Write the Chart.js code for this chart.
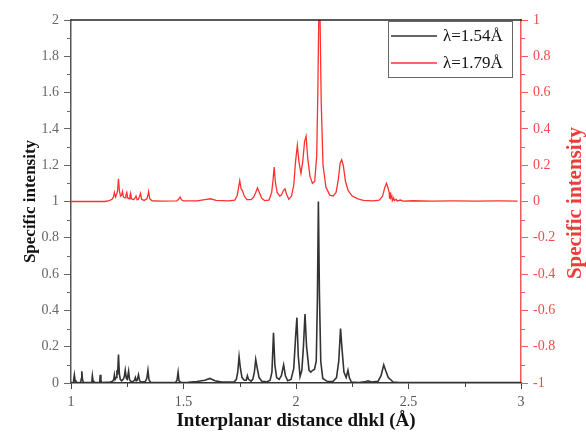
<!DOCTYPE html>
<html><head><meta charset="utf-8">
<script src="https://cdn.jsdelivr.net/npm/chart.js@4/dist/chart.umd.min.js"></script>
<style>html,body{margin:0;padding:0;background:#fff}#wrap{width:586px;height:441px}</style>
</head><body><div id="wrap"><canvas id="c" width="586" height="441"></canvas></div>
<script>
// ---- data ----
const seriesLabels = ['\u03bb=1.54\u00c5', '\u03bb=1.79\u00c5'];
const xTitle = 'Interplanar distance dhkl (\u00c5)';
const yLeftTitle = 'Specific intensity';
const yRightTitle = 'Specific intensity';
const xTicks = [1, 1.5, 2, 2.5, 3];
const xTickLabels = ['1', '1.5', '2', '2.5', '3'];
const yLeftTicks = [0, 0.2, 0.4, 0.6, 0.8, 1, 1.2, 1.4, 1.6, 1.8, 2];
const yLeftTickLabels = ['0', '0.2', '0.4', '0.6', '0.8', '1', '1.2', '1.4', '1.6', '1.8', '2'];
const yRightTicks = [-1, -0.8, -0.6, -0.4, -0.2, 0, 0.2, 0.4, 0.6, 0.8, 1];
const yRightTickLabels = ['-1', '-0.8', '-0.6', '-0.4', '-0.2', '0', '0.2', '0.4', '0.6', '0.8', '1'];

// λ=1.54Å (left axis)
const blackX = [1.000,1.009,1.012,1.015,1.018,1.022,1.043,1.046,1.048,1.051,1.055,1.090,1.093,1.095,1.098,1.102,1.125,1.128,1.130,1.133,1.137,1.175,1.185,1.190,1.193,1.196,1.200,1.204,1.207,1.211,1.215,1.219,1.225,1.232,1.237,1.241,1.246,1.250,1.256,1.260,1.266,1.275,1.282,1.286,1.290,1.294,1.300,1.305,1.315,1.330,1.337,1.342,1.347,1.355,1.465,1.471,1.476,1.480,1.488,1.520,1.560,1.595,1.617,1.640,1.670,1.725,1.735,1.741,1.747,1.753,1.760,1.770,1.779,1.784,1.789,1.800,1.808,1.815,1.821,1.828,1.836,1.848,1.870,1.885,1.893,1.900,1.906,1.914,1.925,1.935,1.945,1.953,1.963,1.978,1.990,1.998,2.004,2.010,2.018,2.026,2.033,2.040,2.047,2.058,2.066,2.074,2.082,2.090,2.095,2.0995,2.104,2.110,2.119,2.140,2.165,2.180,2.190,2.198,2.205,2.213,2.223,2.231,2.237,2.246,2.280,2.305,2.320,2.335,2.365,2.378,2.384,2.390,2.398,2.410,2.432,2.460,3.000];
const blackY = [0.003,0.003,0.02,0.045,0.015,0.003,0.003,0.025,0.065,0.02,0.003,0.003,0.015,0.04,0.012,0.003,0.003,0.015,0.045,0.012,0.003,0.005,0.01,0.02,0.045,0.02,0.03,0.07,0.045,0.157,0.05,0.02,0.012,0.02,0.035,0.07,0.025,0.02,0.065,0.02,0.008,0.008,0.015,0.03,0.012,0.015,0.045,0.012,0.005,0.008,0.025,0.07,0.015,0.003,0.003,0.015,0.06,0.012,0.003,0.004,0.008,0.015,0.025,0.012,0.005,0.005,0.02,0.06,0.145,0.08,0.03,0.015,0.015,0.04,0.02,0.01,0.02,0.06,0.13,0.08,0.03,0.01,0.006,0.015,0.06,0.277,0.1,0.03,0.02,0.04,0.1,0.04,0.012,0.02,0.08,0.25,0.36,0.15,0.035,0.07,0.2,0.38,0.2,0.07,0.06,0.07,0.075,0.12,0.45,1.0,0.5,0.12,0.025,0.008,0.01,0.03,0.12,0.30,0.18,0.06,0.03,0.07,0.03,0.005,0.003,0.006,0.012,0.005,0.01,0.04,0.07,0.1,0.07,0.03,0.005,0.003,0.003];

// λ=1.79Å (right axis)
const redX = [1.000,1.150,1.170,1.182,1.189,1.193,1.198,1.203,1.207,1.211,1.215,1.220,1.225,1.229,1.233,1.240,1.244,1.248,1.252,1.258,1.262,1.265,1.269,1.278,1.284,1.289,1.294,1.300,1.305,1.309,1.314,1.325,1.337,1.341,1.345,1.350,1.360,1.400,1.470,1.478,1.485,1.491,1.500,1.560,1.595,1.620,1.645,1.700,1.728,1.738,1.744,1.750,1.756,1.762,1.770,1.782,1.800,1.812,1.821,1.829,1.837,1.847,1.860,1.880,1.892,1.898,1.903,1.908,1.916,1.928,1.935,1.944,1.951,1.958,1.968,1.980,1.990,1.998,2.006,2.013,2.022,2.030,2.038,2.045,2.052,2.062,2.073,2.083,2.092,2.097,2.101,2.107,2.112,2.120,2.133,2.150,2.165,2.178,2.188,2.196,2.203,2.210,2.220,2.232,2.250,2.275,2.300,2.340,2.370,2.385,2.394,2.402,2.408,2.414,2.416,2.418,2.421,2.426,2.428,2.434,2.437,2.445,2.450,2.465,2.475,2.520,2.600,2.700,2.800,2.900,2.985];
const redY = [0,0,0.005,0.012,0.025,0.05,0.025,0.04,0.06,0.125,0.06,0.03,0.035,0.055,0.025,0.02,0.035,0.05,0.02,0.015,0.03,0.045,0.015,0.01,0.018,0.03,0.01,0.012,0.03,0.045,0.012,0.006,0.015,0.03,0.055,0.015,0.004,0.002,0.003,0.012,0.025,0.01,0.003,0.003,0.01,0.015,0.006,0.003,0.008,0.03,0.07,0.115,0.07,0.06,0.03,0.01,0.01,0.025,0.05,0.075,0.05,0.02,0.005,0.008,0.05,0.12,0.19,0.11,0.05,0.03,0.035,0.06,0.07,0.04,0.012,0.03,0.09,0.22,0.31,0.22,0.155,0.22,0.33,0.36,0.24,0.14,0.1,0.11,0.25,0.6,1.0,1.0,0.55,0.2,0.08,0.035,0.03,0.05,0.12,0.21,0.23,0.2,0.11,0.06,0.03,0.015,0.006,0.003,0.008,0.03,0.075,0.1,0.08,0.05,0.015,0.05,0.02,0.03,0.005,0.02,0.005,0.012,0.003,0.008,0.002,0.004,0.002,0.003,0.002,0.003,0.002];

const SERIF = "'Liberation Serif', 'DejaVu Serif', serif";
const toPts = (xs, ys) => xs.map((x, i) => ({x: x, y: ys[i]}));

function setTicks(values) {
  return function (scale) { scale.ticks = values.map(v => ({value: v})); };
}

const extras = {
  id: 'extras',
  afterDraw(chart) {
    const ctx = chart.ctx, a = chart.chartArea;
    ctx.save();
    // top frame
    ctx.strokeStyle = '#222'; ctx.lineWidth = 1.5;
    ctx.beginPath(); ctx.moveTo(a.left, a.top); ctx.lineTo(a.right + 1, a.top); ctx.stroke();
    // minor ticks
    const minor = (scale, vals, color, dir) => {
      ctx.strokeStyle = color; ctx.lineWidth = 1;
      for (let i = 0; i < vals.length - 1; i++) {
        const m = (vals[i] + vals[i + 1]) / 2;
        const p = Math.round(scale.getPixelForValue(m)) + 0.5;
        ctx.beginPath();
        if (dir === 'down') { ctx.moveTo(p, a.bottom); ctx.lineTo(p, a.bottom + 4); }
        else if (dir === 'left') { ctx.moveTo(a.left, p); ctx.lineTo(a.left - 4, p); }
        else { ctx.moveTo(a.right, p); ctx.lineTo(a.right + 4, p); }
        ctx.stroke();
      }
    };
    minor(chart.scales.x, xTicks, '#444', 'down');
    minor(chart.scales.y, yLeftTicks, '#666', 'left');
    minor(chart.scales.y2, yRightTicks, '#f05a5a', 'right');
    // right title (reads bottom to top)
    ctx.fillStyle = '#ee3b3b';
    ctx.font = 'bold 21px ' + SERIF;
    ctx.textAlign = 'center'; ctx.textBaseline = 'middle';
    ctx.translate(576, 203); ctx.rotate(-Math.PI / 2);
    ctx.fillText(yRightTitle, 0, 0);
    ctx.restore();
    // legend box
    ctx.save();
    const bx = 388, by = 21, bw = 124, bh = 56;
    ctx.fillStyle = '#fff'; ctx.fillRect(bx, by, bw, bh);
    ctx.strokeStyle = '#666'; ctx.lineWidth = 1;
    ctx.strokeRect(bx + 0.5, by + 0.5, bw, bh);
    ctx.font = '17px ' + SERIF; ctx.textBaseline = 'middle'; ctx.textAlign = 'left';
    chart.data.datasets.forEach((ds, i) => {
      const yy = by + 15 + i * 27;
      ctx.strokeStyle = ds.borderColor; ctx.lineWidth = 1.5;
      ctx.beginPath(); ctx.moveTo(bx + 3, yy); ctx.lineTo(bx + 49, yy); ctx.stroke();
      ctx.fillStyle = '#111';
      ctx.fillText(ds.label, bx + 55, yy + 1);
    });
    ctx.restore();
  }
};

new Chart(document.getElementById('c'), {
  type: 'line',
  data: {
    datasets: [
      {label: seriesLabels[0], data: toPts(blackX, blackY), yAxisID: 'y', borderColor: '#333333', borderWidth: 1.6, pointRadius: 0, tension: 0, fill: false},
      {label: seriesLabels[1], data: toPts(redX, redY), yAxisID: 'y2', borderColor: '#ff3030', borderWidth: 1.3, pointRadius: 0, tension: 0, fill: false}
    ]
  },
  options: {
    responsive: false, animation: false,
    layout: {padding: {top: 20, left: 0, right: 0, bottom: 0}},
    plugins: {legend: {display: false}, tooltip: {enabled: false}},
    scales: {
      x: {
        type: 'linear', min: 1, max: 3,
        afterBuildTicks: setTicks(xTicks),
        afterFit(s) { s.height = 58; },
        ticks: {callback: (v, i) => xTickLabels[i], color: '#555', font: {family: SERIF, size: 14}, padding: 5, maxRotation: 0},
        grid: {drawOnChartArea: false, drawTicks: true, tickLength: 6, tickColor: '#444'},
        border: {display: true, color: '#333', width: 1.5},
        title: {display: true, text: xTitle, color: '#111', font: {family: SERIF, size: 19, weight: 'bold'}, padding: {top: 0, bottom: 9}}
      },
      y: {
        type: 'linear', position: 'left', min: 0, max: 2,
        afterBuildTicks: setTicks(yLeftTicks),
        afterFit(s) { s.width = 71; },
        ticks: {callback: (v, i) => yLeftTickLabels[i], color: '#666', font: {family: SERIF, size: 14}, padding: 5},
        grid: {drawOnChartArea: false, drawTicks: true, tickLength: 7, tickColor: '#666'},
        border: {display: true, color: '#555', width: 1.5},
        title: {display: true, text: yLeftTitle, color: '#111', font: {family: SERIF, size: 17, weight: 'bold'}, padding: {top: 20, bottom: 0}}
      },
      y2: {
        type: 'linear', position: 'right', min: -1, max: 1,
        afterBuildTicks: setTicks(yRightTicks),
        afterFit(s) { s.width = 65; },
        ticks: {callback: (v, i) => yRightTickLabels[i], color: '#ee4b4b', font: {family: SERIF, size: 14}, padding: 5},
        grid: {drawOnChartArea: false, drawTicks: true, tickLength: 7, tickColor: '#f05a5a'},
        border: {display: true, color: '#f05a5a', width: 1.5}
      }
    }
  },
  plugins: [extras]
});
</script></body></html>
